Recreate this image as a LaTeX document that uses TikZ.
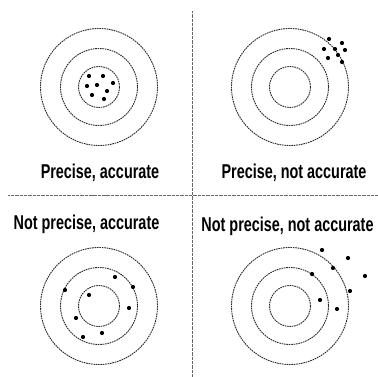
\documentclass[tikz,border=0pt]{standalone}
\usepackage{fontspec}
\setmainfont{Liberation Sans}
\newcommand{\narrow}[1]{\scalebox{0.72}[1]{#1}}
\begin{document}
\begin{tikzpicture}[x=1pt, y=-1pt,
  ring/.style={draw=black!85, line width=0.9pt, dash pattern=on 1.6pt off 0.8pt},
  divider/.style={draw=black!60, line width=1.6pt, dash pattern=on 1pt off 0.3pt},
  shot/.style={circle, fill=black, inner sep=0pt, minimum size=4.2pt},
  caption/.style={font=\bfseries\fontsize{20}{20}\selectfont, inner sep=0pt}]
\useasboundingbox (0,0) rectangle (378,377);

% quadrant dividers
\coordinate (top) at (192.5,11);
\coordinate (bottom) at (192.5,377);
\coordinate (left) at (8,195.5);
\coordinate (right) at (378,195.5);
\draw [divider] (top) -- (bottom);
\draw [divider] (left) -- (right);

% targets
\foreach \name/\cx/\cy in {pa/99/87, pn/290/87, na/99/306, nn/290/306} {
  \coordinate (\name) at (\cx,\cy);
  \draw [ring] (\name) circle (58.5);
  \draw [ring] (\name) circle (38.5);
  \draw [ring] (\name) circle (20.5);
}

% shots
\foreach \x/\y in {89/76, 103/76, 113/83, 87/86, 97/85, 107/91, 92/95, 104/99}
  \node [shot] at (\x,\y) {};
\foreach \x/\y in {329/39, 342/43, 324/49, 335/49, 345/50, 328/58, 338/55, 342/62}
  \node [shot] at (\x,\y) {};
\foreach \x/\y in {115/277, 133/287, 65/290, 89/295, 129/308, 76/318, 102/333, 83/337}
  \node [shot] at (\x,\y) {};
\foreach \x/\y in {322/250, 348/258, 333/268, 312/274, 365/276, 350/291, 320/300, 337/309}
  \node [shot] at (\x,\y) {};

% captions
\node (pa label) [caption] at (100,173) {\narrow{Precise, accurate}};
\node (pn label) [caption] at (294,173) {\narrow{Precise, not accurate}};
\node (na label) [caption] at (86.5,224) {\narrow{Not precise, accurate}};
\node (nn label) [caption] at (287.5,226) {\narrow{Not precise, not accurate}};

\end{tikzpicture}
\end{document}
